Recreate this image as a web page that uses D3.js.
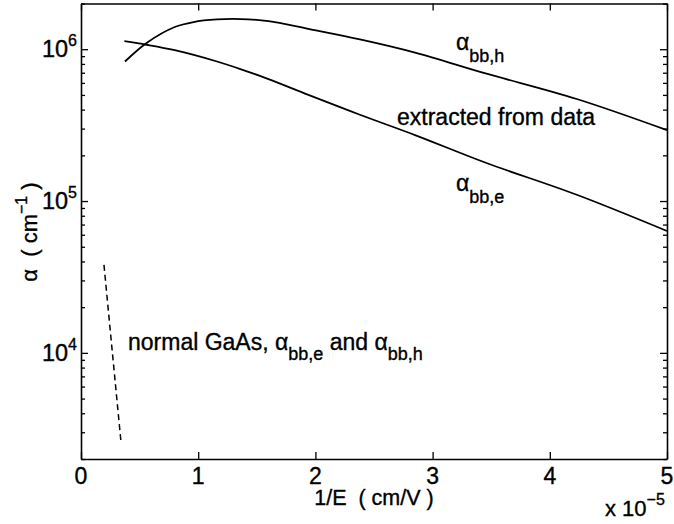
<!DOCTYPE html>
<html>
<head>
<meta charset="utf-8">
<script src="https://cdn.jsdelivr.net/npm/d3@7"></script>
<style>
  html, body { margin: 0; padding: 0; background: #fff; }
  svg { display: block; }
  text { font-family: "Liberation Sans", Arial, Helvetica, sans-serif; fill: #000; stroke: #000; stroke-width: 0.35; }
</style>
</head>
<body>
<svg id="chart" width="674" height="524"></svg>
<script>
// ---- data ----
const xTicks = [0, 1, 2, 3, 4, 5];
const xTickLabels = ["0", "1", "2", "3", "4", "5"];
const yMajorExps = [4, 5, 6];

// alpha_bb,h curve
const xH = [0.375, 0.56, 0.80, 0.96, 1.16, 1.36, 1.60, 1.94, 2.38, 2.85, 3.46, 4.23, 5.0];
const alphaH = [8.3e5, 1.1e6, 1.40e6, 1.51e6, 1.57e6, 1.58e6, 1.53e6, 1.36e6, 1.16e6, 9.5e5, 6.9e5, 4.7e5, 2.93e5];

// alpha_bb,e curve
const xE = [0.37, 0.56, 0.80, 1.16, 1.36, 1.60, 1.94, 2.38, 2.85, 3.46, 4.23, 5.0];
const alphaE = [1.13e6, 1.07e6, 9.85e5, 8.3e5, 7.4e5, 6.35e5, 5.0e5, 3.7e5, 2.72e5, 1.78e5, 1.1e5, 6.35e4];

// normal GaAs (dashed)
const xN = [0.196, 0.268, 0.341];
const alphaN = [3.8e4, 1.0e4, 2.6e3];

// ---- layout ----
const L = 81, R = 667, T = 3.5, B = 459;
const svg = d3.select("#chart");
const x = d3.scaleLinear().domain([0, 5]).range([L, R]);
const y = d3.scaleLog().domain([2e3, 2e6]).range([B, T]);

const FONT = 23;

// curves
const line = d3.line().x(d => x(d[0])).y(d => y(d[1])).curve(d3.curveCatmullRom.alpha(0.5));
const lineN = d3.line().x(d => x(d[0])).y(d => y(d[1]));

svg.append("path")
  .attr("d", line(xH.map((v, i) => [v, alphaH[i]])))
  .attr("fill", "none").attr("stroke", "#000").attr("stroke-width", 1.8);
svg.append("path")
  .attr("d", line(xE.map((v, i) => [v, alphaE[i]])))
  .attr("fill", "none").attr("stroke", "#000").attr("stroke-width", 1.8);
svg.append("path")
  .attr("d", lineN(xN.map((v, i) => [v, alphaN[i]])))
  .attr("fill", "none").attr("stroke", "#000").attr("stroke-width", 1.5)
  .attr("stroke-dasharray", "6,4");

// axes (ticks inside, box)
const fmtNone = () => "";
const gB = svg.append("g").attr("transform", `translate(0,${B})`)
  .call(d3.axisBottom(x).tickValues(xTicks).tickSize(-7).tickSizeOuter(0).tickFormat(fmtNone));
const gT = svg.append("g").attr("transform", `translate(0,${T})`)
  .call(d3.axisTop(x).tickValues(xTicks).tickSize(-7).tickSizeOuter(0).tickFormat(fmtNone));

const yAll = y.ticks().filter(v => v >= 2e3 && v <= 2e6);
const isMajor = v => Math.abs(Math.log10(v) - Math.round(Math.log10(v))) < 1e-9;
const yMinor = yAll.filter(v => !isMajor(v));
const yMajor = yMajorExps.map(e => Math.pow(10, e));

const gL = svg.append("g").attr("transform", `translate(${L},0)`)
  .call(d3.axisLeft(y).tickValues(yMajor).tickSize(-7).tickSizeOuter(0).tickFormat(fmtNone));
const gLm = svg.append("g").attr("transform", `translate(${L},0)`)
  .call(d3.axisLeft(y).tickValues(yMinor).tickSize(-4).tickSizeOuter(0).tickFormat(fmtNone));
const gR = svg.append("g").attr("transform", `translate(${R},0)`)
  .call(d3.axisRight(y).tickValues(yMajor).tickSize(-7).tickSizeOuter(0).tickFormat(fmtNone));
const gRm = svg.append("g").attr("transform", `translate(${R},0)`)
  .call(d3.axisRight(y).tickValues(yMinor).tickSize(-4).tickSizeOuter(0).tickFormat(fmtNone));

[gB, gT, gL, gLm, gR, gRm].forEach(g => {
  g.selectAll("path.domain").attr("stroke", "#000").attr("stroke-width", 1.6);
  g.selectAll(".tick line").attr("stroke", "#000").attr("stroke-width", 1.3);
});
gLm.select("path.domain").remove();
gRm.select("path.domain").remove();

// x tick labels
svg.append("g").selectAll("text").data(xTicks).join("text")
  .attr("x", d => x(d)).attr("y", 484)
  .attr("text-anchor", "middle").attr("font-size", FONT)
  .text((d, i) => xTickLabels[i]);

// y tick labels 10^n
const yl = svg.append("g").selectAll("text").data(yMajorExps).join("text")
  .attr("x", 77).attr("y", d => y(Math.pow(10, d)) + 8)
  .attr("text-anchor", "end").attr("font-size", 23.5);
yl.append("tspan").text("10");
yl.append("tspan").attr("font-size", 16).attr("dy", -11).text(d => d);

// x axis label
svg.append("text").attr("x", (L + R) / 2).attr("y", 505)
  .attr("text-anchor", "middle").attr("font-size", 21.5)
  .attr("xml:space", "preserve")
  .text("1/E  ( cm/V )");

// x 10^-5
const xm = svg.append("text").attr("x", 605).attr("y", 516).attr("font-size", 22);
xm.append("tspan").text("x 10");
xm.append("tspan").attr("font-size", 16).attr("dy", -11).text("\u22125");

// y axis label
const ylab = svg.append("text")
  .attr("transform", "translate(37,232) rotate(-90)")
  .attr("text-anchor", "middle").attr("font-size", 22)
  .attr("xml:space", "preserve");
ylab.append("tspan").text("\u03b1  ( cm");
ylab.append("tspan").attr("font-size", 16).attr("dy", -10).text("\u22121");
ylab.append("tspan").attr("dy", 10).text(" )");

// annotations
function alphaLabel(xp, yp, sub) {
  const t = svg.append("text").attr("x", xp).attr("y", yp).attr("font-size", 23);
  t.append("tspan").text("\u03b1");
  t.append("tspan").attr("font-size", 18).attr("dy", 12).text(sub);
  return t;
}
alphaLabel(456, 50, "bb,h");
alphaLabel(456, 191, "bb,e");

svg.append("text").attr("x", 397).attr("y", 125).attr("font-size", 23)
  .text("extracted from data");

const n = svg.append("text").attr("x", 128).attr("y", 350).attr("font-size", 23);
n.append("tspan").text("normal GaAs, \u03b1");
n.append("tspan").attr("font-size", 18).attr("dy", 10).text("bb,e");
n.append("tspan").attr("dy", -10).text(" and \u03b1");
n.append("tspan").attr("font-size", 18).attr("dy", 10).text("bb,h");
</script>
</body>
</html>
